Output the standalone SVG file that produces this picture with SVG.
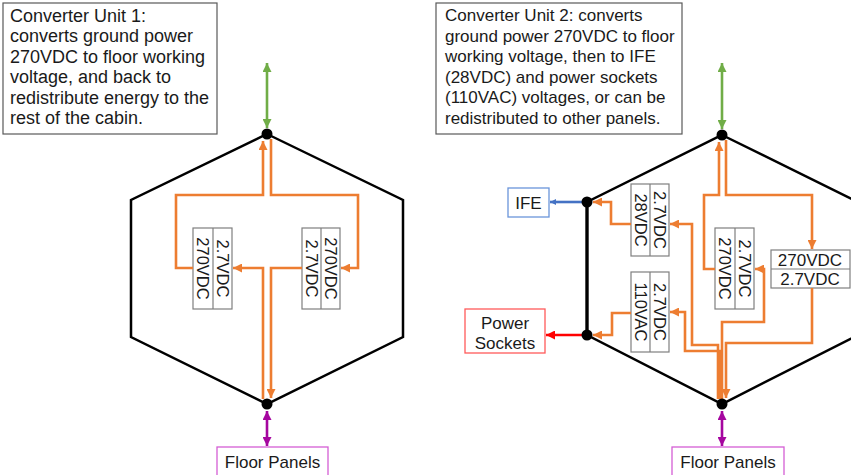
<svg xmlns="http://www.w3.org/2000/svg" width="851" height="475" viewBox="0 0 851 475">
<style>
  text { font-family: "Liberation Sans", Arial, sans-serif; fill: #1a1a1a; }
  .desc { font-size: 17px; }
  .desc1 { font-size: 18px; }
  .lbl { font-size: 17px; text-anchor: middle; }
  .rot { font-size: 16.5px; text-anchor: middle; dominant-baseline: central; }
  .tbox { fill: #fff; stroke: #595959; stroke-width: 1.2; }
  .cbox { fill: #fff; stroke: #7f7f7f; stroke-width: 1.2; }
  .div { stroke: #7f7f7f; stroke-width: 1.2; }
  .hex { fill: none; stroke: #000; stroke-width: 2.5; stroke-linejoin: miter; }
  .bus { stroke: #000; stroke-width: 3.2; }
  .node { fill: #000; }
  .or { fill: none; stroke: #ED7D31; stroke-width: 2.6; marker-end: url(#arrO); }
  .gr { stroke: #70AD47; stroke-width: 2.6; marker-start: url(#arrG); marker-end: url(#arrG); }
  .mg { stroke: #A5069F; stroke-width: 2.6; marker-start: url(#arrM); marker-end: url(#arrM); }
</style>
<defs>
  <marker id="arrO" markerUnits="userSpaceOnUse" viewBox="0 0 10 10" refX="10" refY="5" markerWidth="9" markerHeight="9" orient="auto"><path d="M0,0 L10,5 L0,10 z" fill="#ED7D31"/></marker>
  <marker id="arrG" markerUnits="userSpaceOnUse" viewBox="0 0 10 10" refX="10" refY="5" markerWidth="9" markerHeight="9" orient="auto-start-reverse"><path d="M0,0 L10,5 L0,10 z" fill="#70AD47"/></marker>
  <marker id="arrM" markerUnits="userSpaceOnUse" viewBox="0 0 10 10" refX="10" refY="5" markerWidth="9" markerHeight="9" orient="auto-start-reverse"><path d="M0,0 L10,5 L0,10 z" fill="#A5069F"/></marker>
  <marker id="arrR" markerUnits="userSpaceOnUse" viewBox="0 0 10 10" refX="10" refY="5" markerWidth="9" markerHeight="9" orient="auto"><path d="M0,0 L10,5 L0,10 z" fill="#FF0000"/></marker>
  <marker id="arrB" markerUnits="userSpaceOnUse" viewBox="0 0 10 10" refX="10" refY="5" markerWidth="6" markerHeight="8" orient="auto"><path d="M0,0 L10,5 L0,10 z" fill="#4472C4"/></marker>
</defs>

<!-- Description boxes -->
<g id="desc1">
  <rect class="tbox" x="3" y="3" width="214" height="131"/>
  <text class="desc1" x="10" y="21.5">Converter Unit 1:</text>
  <text class="desc1" x="10" y="42">converts ground power</text>
  <text class="desc1" x="10" y="62.5">270VDC to floor working</text>
  <text class="desc1" x="10" y="83">voltage, and back to</text>
  <text class="desc1" x="10" y="103.5">redistribute energy to the</text>
  <text class="desc1" x="10" y="124">rest of the cabin.</text>
</g>
<g id="desc2">
  <rect class="tbox" x="436" y="3" width="246" height="131"/>
  <text class="desc" x="445" y="21">Converter Unit 2: converts</text>
  <text class="desc" x="445" y="41.5">ground power 270VDC to floor</text>
  <text class="desc" x="445" y="62">working voltage, then to IFE</text>
  <text class="desc" x="445" y="82.5">(28VDC) and power sockets</text>
  <text class="desc" x="445" y="103">(110VAC) voltages, or can be</text>
  <text class="desc" x="445" y="123.5">redistributed to other panels.</text>
</g>

<!-- Hexagons -->
<g id="hex1">
  <polygon class="hex" points="267,134 403,200 403,337 267,404 131,337 131,200"/>
</g>
<g id="hex2">
  <polygon class="hex" points="722,135 858,202 858,335 722,404 587,335 587,202"/>
  <line class="bus" x1="587" y1="202" x2="587" y2="335"/>
</g>

<!-- Converter boxes, unit 1 -->
<g id="u1-box1">
  <rect class="cbox" x="193" y="228" width="39" height="81"/>
  <line class="div" x1="213" y1="228" x2="213" y2="309"/>
  <text class="rot" transform="translate(203,268.5) rotate(90)">270VDC</text>
  <text class="rot" transform="translate(222.5,268.5) rotate(90)">2.7VDC</text>
</g>
<g id="u1-box2">
  <rect class="cbox" x="302" y="228" width="38" height="81"/>
  <line class="div" x1="321" y1="228" x2="321" y2="309"/>
  <text class="rot" transform="translate(311.5,268.5) rotate(90)">2.7VDC</text>
  <text class="rot" transform="translate(330.5,268.5) rotate(90)">270VDC</text>
</g>

<!-- Converter boxes, unit 2 -->
<g id="u2-box-ife">
  <rect class="cbox" x="631" y="184" width="38" height="72"/>
  <line class="div" x1="650" y1="184" x2="650" y2="256"/>
  <text class="rot" transform="translate(640.5,220) rotate(90)">28VDC</text>
  <text class="rot" transform="translate(659.5,220) rotate(90)">2.7VDC</text>
</g>
<g id="u2-box-ac">
  <rect class="cbox" x="631" y="272" width="38" height="80"/>
  <line class="div" x1="650" y1="272" x2="650" y2="352"/>
  <text class="rot" transform="translate(640.5,312) rotate(90)">110VAC</text>
  <text class="rot" transform="translate(659.5,312) rotate(90)">2.7VDC</text>
</g>
<g id="u2-box-up">
  <rect class="cbox" x="715" y="228" width="39" height="81"/>
  <line class="div" x1="735" y1="228" x2="735" y2="309"/>
  <text class="rot" transform="translate(725,268.5) rotate(90)">270VDC</text>
  <text class="rot" transform="translate(744.5,268.5) rotate(90)">2.7VDC</text>
</g>
<g id="u2-box-down">
  <rect class="cbox" x="771" y="250" width="79" height="38"/>
  <line class="div" x1="771" y1="269" x2="850" y2="269"/>
  <text class="lbl" x="810" y="265.5">270VDC</text>
  <text class="lbl" x="810" y="284.5">2.7VDC</text>
</g>

<!-- External loads -->
<g id="floor1">
  <rect x="217" y="447" width="111" height="32" fill="#fff" stroke="#D45ED4" stroke-width="1.3"/>
  <text class="lbl" x="272.5" y="467.5">Floor Panels</text>
</g>
<g id="floor2">
  <rect x="672" y="447" width="112" height="32" fill="#fff" stroke="#D45ED4" stroke-width="1.3"/>
  <text class="lbl" x="728" y="467.5">Floor Panels</text>
</g>
<g id="ife">
  <rect x="508" y="188" width="41" height="29" fill="#fff" stroke="#6A95DA" stroke-width="1.3"/>
  <text class="lbl" x="528.5" y="208.5">IFE</text>
</g>
<g id="sockets">
  <rect x="465" y="309" width="80" height="44" fill="#fff" stroke="#FF5A5A" stroke-width="1.3"/>
  <text class="lbl" x="505" y="329">Power</text>
  <text class="lbl" x="505" y="349">Sockets</text>
</g>

<!-- Connectors -->
<g id="connectors">
  <!-- unit 1 -->
  <line class="gr" x1="267" y1="63" x2="267" y2="128"/>
  <line class="mg" x1="267" y1="411" x2="267" y2="446"/>
  <path class="or" d="M193,268 H176 V195 H263 V141"/>
  <path class="or" d="M271,139 V195 H358 V268 H341"/>
  <path class="or" d="M263,399 V268 H233"/>
  <path class="or" d="M302,268 H271 V398"/>
  <!-- unit 2 -->
  <line class="gr" x1="722" y1="63" x2="722" y2="129"/>
  <line class="mg" x1="722" y1="411" x2="722" y2="446"/>
  <line x1="582" y1="202" x2="550" y2="202" stroke="#4472C4" stroke-width="2.6" marker-end="url(#arrB)"/>
  <line x1="582" y1="335" x2="546" y2="335" stroke="#FF0000" stroke-width="2.6" marker-end="url(#arrR)"/>
  <path class="or" d="M715,269 H704 V195 H719 V142"/>
  <path class="or" d="M726,140 V195 H812 V249"/>
  <path class="or" d="M812,288 V343 H726 V398"/>
  <path class="or" d="M722,399 V322 H764 V269 H755"/>
  <path class="or" d="M718,399 V345 H692 V224 H670"/>
  <path class="or" d="M720,399 V351 H685 V312 H670"/>
  <path class="or" d="M631,224 H611 V202 H593"/>
  <path class="or" d="M631,313 H612 V335 H593"/>
</g>

<!-- Junction nodes -->
<g id="nodes">
  <circle class="node" cx="267" cy="134" r="5.5"/>
  <circle class="node" cx="267" cy="404" r="5.5"/>
  <circle class="node" cx="722" cy="135" r="5.5"/>
  <circle class="node" cx="722" cy="404" r="5.5"/>
  <circle class="node" cx="587" cy="202" r="5.5"/>
  <circle class="node" cx="587" cy="335" r="5.5"/>
</g>
</svg>
